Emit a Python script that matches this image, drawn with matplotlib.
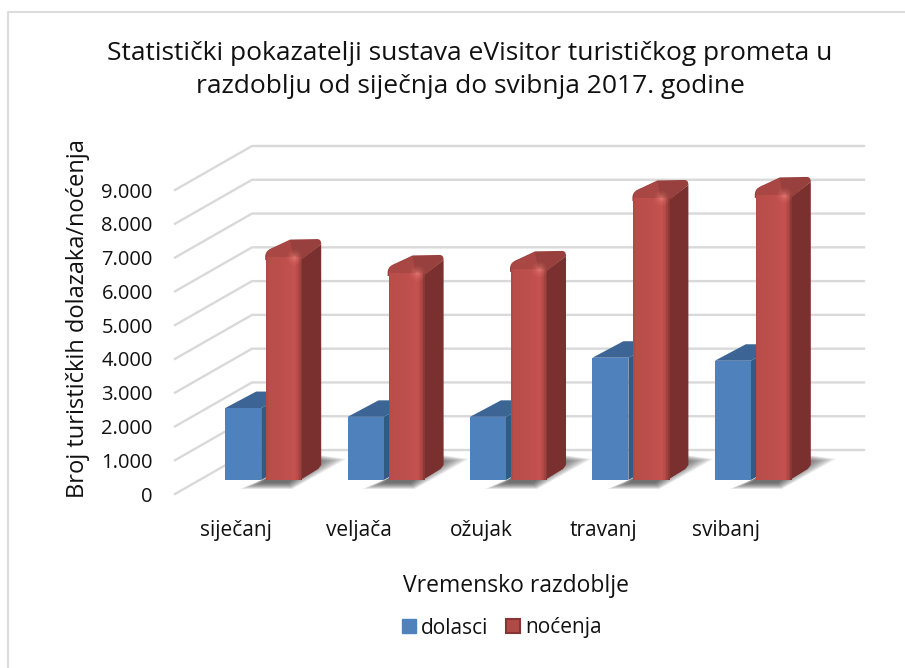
import numpy as np
import matplotlib
matplotlib.use("Agg")
import matplotlib.pyplot as plt
from matplotlib.patches import Patch, Polygon, Rectangle, PathPatch
from matplotlib.path import Path
from matplotlib.lines import Line2D
from matplotlib.colors import LinearSegmentedColormap

months = ["siječanj", "veljača", "ožujak", "travanj", "svibanj"]
dolasci = [2130, 1870, 1870, 3620, 3530]
nocenja = [6600, 6130, 6250, 8350, 8440]
yticks = [0, 1000, 2000, 3000, 4000, 5000, 6000, 7000, 8000, 9000]
yticklabels = ["0", "1.000", "2.000", "3.000", "4.000", "5.000", "6.000", "7.000", "8.000", "9.000"]

W, H = 905, 668
plt.rcParams['font.family'] = ['Open Sans', 'DejaVu Sans']
fig = plt.figure(figsize=(W / 100, H / 100), dpi=100)

# axes = front edge of the floor, 3d look is an oblique offset on top of it
ax = fig.add_axes([175 / W, 1 - 494 / H, 612 / W, 304 / H])
ax.set_xlim(-0.5, 4.5)
ax.set_ylim(0, 9000)
ax.patch.set_visible(False)
for s in ax.spines.values():
    s.set_visible(False)

PX = 1 / 122.4        # one pixel in category units
PY = 1000 / 33.78     # one pixel in value units
dx = 77 * PX
dy = 44 * PY
floor = 14 * PY       # bars stand a bit behind the front edge

grid_c = "#d9d9d9"
for v in yticks:
    ax.plot([-0.5, -0.5 + dx, 4.5 + dx], [v, v + dy, v + dy], color=grid_c, lw=1.7, clip_on=False, zorder=1)

bw = 36 * PX
bx_off = -11 * PX
rx_off = 30 * PX

red_cmap = LinearSegmentedColormap.from_list("r", [(0, "#ad4744"), (0.06, "#b94d4a"), (0.55, "#bd4f4c"),
                                                  (0.8, "#c6524f"), (0.92, "#ab4744"), (1, "#823432")])


def off(x, y, px, py):
    # point px/py pixels away from a data point, y up
    return (x + px * PX, y + py * PY)


def shadow(x0, base):
    # soft shadow on the floor, many see-through polygons without edges
    for s in np.linspace(0, 1, 12):
        pts = [off(x0, base, -26 + 22 * s, -9 + 6 * s), off(x0, base, 26 - 4 * s, -9 + 6 * s),
               off(x0, base, 80 - 30 * s, 21 - 3 * s), off(x0, base, 52, 25 - 6 * s), off(x0, base, 0, 2)]
        ax.add_patch(Polygon(pts, fc="#303030", ec="none", alpha=0.085, clip_on=False, zorder=2))


def red_bar(x1, value):
    top = floor + value
    # side face
    ax.add_patch(Polygon([off(x1, floor, 34, 0), off(x1, floor, 52, 11), off(x1, floor, 55, 15),
                          off(x1, top, 55, 13), off(x1, top, 34, -3)],
                         fc="#7a302e", ec="none", clip_on=False, zorder=5))
    # top face with rounded outline
    verts = [off(x1, top, -1, 0), off(x1, top, -1, 6), off(x1, top, 3, 8), off(x1, top, 8, 10),
             off(x1, top, 24, 17.5), off(x1, top, 51, 18), off(x1, top, 55, 18), off(x1, top, 55, 13),
             off(x1, top, 35, -3), off(x1, top, -1, -3), off(x1, top, -1, 0)]
    codes = [Path.MOVETO, Path.CURVE4, Path.CURVE4, Path.CURVE4, Path.LINETO, Path.LINETO, Path.CURVE3,
             Path.CURVE3, Path.LINETO, Path.LINETO, Path.CLOSEPOLY]
    ax.add_patch(PathPatch(Path(verts, codes), fc="#97403d", ec="none", clip_on=False, zorder=6))
    # left part of the top is closer to the front colour
    ax.add_patch(Polygon([off(x1, top, 0, 0), off(x1, top, 1, 6), off(x1, top, 24, 17), off(x1, top, 27, 0)],
                         fc="#b24b48", ec="none", alpha=0.7, clip_on=False, zorder=6))
    # front face
    n = 24
    for k in range(n):
        ax.add_patch(Rectangle((x1 + bw * k / n, floor), bw / n * 1.15, value, fc=red_cmap((k + 0.5) / n),
                               ec="none", clip_on=False, zorder=7))
    # highlight at the corner
    hx, hy = off(x1, top, 28, 0)
    for ms, a in [(11, 0.10), (8, 0.15), (5, 0.25), (2.5, 0.35)]:
        ax.plot([hx], [hy], "o", ms=ms, mfc="#ee7f78", mec="none", alpha=a, clip_on=False, zorder=8)


for i in range(len(months)):
    # dolasci
    x0 = i + bx_off
    top = floor + dolasci[i]
    ax.add_patch(Polygon([off(x0, top, 0, 0), off(x0, top, 36, 0), off(x0, top, 67, 16.5), off(x0, top, 31, 16.5)],
                         fc="#3c6595", ec="none", clip_on=False, zorder=3))
    ax.add_patch(Polygon([off(x0, floor, 36, 0), off(x0, floor, 67, 16.5), off(x0, top, 67, 16.5), off(x0, top, 36, 0)],
                         fc="#315a84", ec="none", clip_on=False, zorder=3))
    ax.add_patch(Rectangle((x0, floor), bw, dolasci[i], fc="#4f81bd", ec="none", clip_on=False, zorder=4))

    # nocenja
    x1 = i + rx_off
    shadow(x1, floor)
    red_bar(x1, nocenja[i])

ax.set_yticks(yticks)
ax.set_yticklabels(yticklabels, fontsize=14.5, color="#111111")
ax.tick_params(axis='y', length=0, pad=16)
ax.set_xticks(range(len(months)))
ax.set_xticklabels(months, fontsize=15, color="#111111")
ax.tick_params(axis='x', length=0, pad=19)
ax.set_xlabel("Vremensko razdoblje", fontsize=16.5, color="#111111", va="center")
ax.xaxis.set_label_coords((516 - 175) / 612, -(586 - 494) / 304)
ax.set_ylabel("Broj turističkih dolazaka/noćenja", fontsize=17, color="#111111", va="center")
ax.yaxis.set_label_coords((78 - 175) / 612, (494 - 319) / 304)

fig.text(470 / W, 1 - 70 / H, "Statistički pokazatelji sustava eVisitor turističkog prometa u\nrazdoblju od siječnja do svibnja 2017. godine",
         ha="center", va="center", fontsize=19, color="#111111", linespacing=1.38)

handles = [Patch(fc="#4f81bd", ec="#4f81bd"), Patch(fc="#b04a47", ec="#873533", lw=1.5)]
leg = fig.legend(handles, ["dolasci", "noćenja"], ncol=2, frameon=False, fontsize=15,
                 loc="center", bbox_to_anchor=(502 / W, 1 - 628 / H), handlelength=0.67, handleheight=0.67,
                 handletextpad=0.24, columnspacing=0.87, labelcolor="#111111")

# only the top and left edge of the frame are in the picture
fig.add_artist(Line2D([8 / W, 8 / W, 1], [0, 1 - 12 / H, 1 - 12 / H], transform=fig.transFigure, color="#dcdcdc", lw=1.5))
fig.savefig("out.png", dpi=100)
